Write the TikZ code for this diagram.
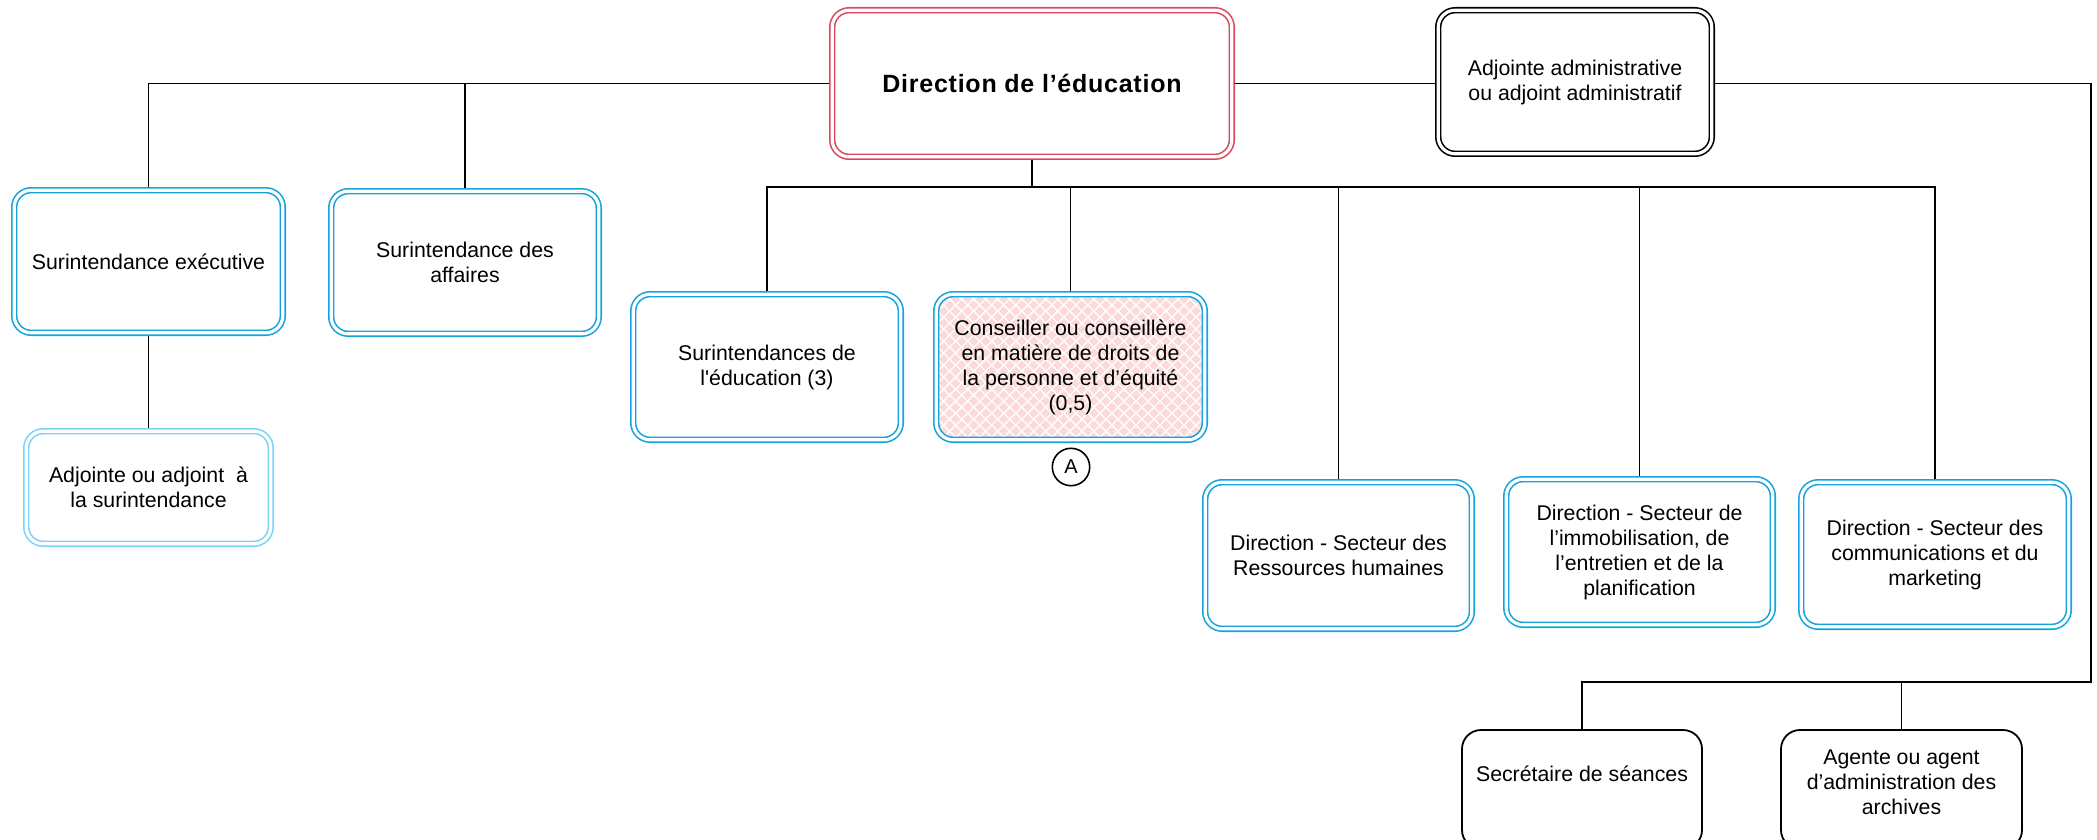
\documentclass[tikz,border=0pt]{standalone}
\usepackage{fontspec}
\setmainfont{Liberation Sans}
\newfontfamily\titlefont[LetterSpace=3]{Liberation Sans}
\usetikzlibrary{patterns.meta}
\definecolor{bl}{RGB}{20,163,221}
\definecolor{lbl}{RGB}{122,212,245}
\definecolor{rd}{RGB}{218,72,96}
\definecolor{pk}{RGB}{252,218,218}
\begin{document}
\begin{tikzpicture}[x=1pt,y=-1pt,
  box/.style={rectangle, rounded corners=17pt, inner sep=0pt, align=center,
    font=\fontsize{21.3}{25}\selectfont, line width=1.6pt,
    double distance=3.2pt, double=white, outer sep=3.2pt},
  bluebox/.style={box, draw=bl},
  lightbox/.style={box, draw=lbl},
  redbox/.style={box, draw=rd},
  blackbox/.style={box, draw=black},
  plainbox/.style={rectangle, rounded corners=19pt, inner sep=0pt, align=center,
    font=\fontsize{21.3}{25}\selectfont, line width=1.8pt, draw=black, outer sep=0.9pt},
  hatched/.style={preaction={fill=pk},
    preaction={pattern={Lines[angle=45,distance=8.5pt,line width=1.3pt]}, pattern color=white},
    pattern={Lines[angle=-45,distance=8.5pt,line width=1.3pt]}, pattern color=white},
  marker/.style={circle, draw=black, line width=1.6pt, minimum size=37.4pt, inner sep=0pt,
    font=\fontsize{20}{22}\selectfont},
  wire/.style={line width=1.8pt, draw=black}
]
\useasboundingbox (0,0) rectangle (2097,840);
\clip (0,0) rectangle (2097,840);

\node[redbox, minimum width=399.6pt, minimum height=146.6pt] (dir) at (1032,83.5)
  {\titlefont\bfseries\fontsize{25}{30}\selectfont Direction de l’éducation};
\node[blackbox, minimum width=273.6pt, minimum height=143.6pt] (adm) at (1575,82)
  {Adjointe administrative\\ou adjoint administratif};
\node[bluebox, minimum width=268.6pt, minimum height=142.6pt] (exe) at (148.5,261.5)
  {Surintendance exécutive};
\node[bluebox, minimum width=267.6pt, minimum height=142.6pt] (aff) at (465,262.5)
  {Surintendance des\\affaires};
\node[lightbox, minimum width=244.6pt, minimum height=112.6pt] (adj) at (148.5,487.5)
  {Adjointe ou adjoint~ à\\la surintendance};
\node[bluebox, minimum width=267.6pt, minimum height=145.6pt] (sed) at (767,367)
  {Surintendances de\\l\textquotesingle éducation (3)};
\node[bluebox, hatched, minimum width=268.6pt, minimum height=145.6pt] (con) at (1070.5,367)
  {Conseiller ou conseillère\\en matière de droits de\\la personne et d’équité\\(0,5)};
\node[marker] (mA) at (1071,467) {A};
\node[bluebox, minimum width=266.6pt, minimum height=146.6pt] (rh) at (1338.5,555.5)
  {Direction - Secteur des\\Ressources humaines};
\node[bluebox, minimum width=266.6pt, minimum height=145.6pt] (imm) at (1639.5,552)
  {Direction - Secteur de\\l’immobilisation, de\\l’entretien et de la\\planification};
\node[bluebox, minimum width=267.6pt, minimum height=144.6pt] (com) at (1935,554.5)
  {Direction - Secteur des\\communications et du\\marketing};
\node[plainbox, minimum width=240pt, minimum height=119pt] (sec) at (1582,789.5)
  {\raisebox{16pt}[\height][\depth]{Secrétaire de séances}};
\node[plainbox, minimum width=241pt, minimum height=119pt] (age) at (1901.5,789.5)
  {\raisebox{7pt}[\height][\depth]{Agente ou agent}\\\raisebox{7pt}[\height][\depth]{d’administration des}\\\raisebox{7pt}[\height][\depth]{archives}};

\coordinate (rb) at (2091,682);
\coordinate (bar) at (1032,187);

\draw[wire] (dir.west) -| (exe.north);
\draw[wire] (aff.north) -- (aff.north |- dir.west);
\draw[wire] (exe.south) -- (adj.north);
\draw[wire] (dir.east) -- (dir.east -| adm.west);
\draw[wire] (adm.east |- dir.east) -| (rb) -| (sec.north);
\draw[wire] (age.north) -- (age.north |- rb);
\draw[wire] (dir.south) -- (bar);
\draw[wire] (sed.north) |- (bar) -| (com.north);
\draw[wire] (con.north) -- (con.north |- bar);
\draw[wire] (rh.north) -- (rh.north |- bar);
\draw[wire] (imm.north) -- (imm.north |- bar);
\end{tikzpicture}
\end{document}
